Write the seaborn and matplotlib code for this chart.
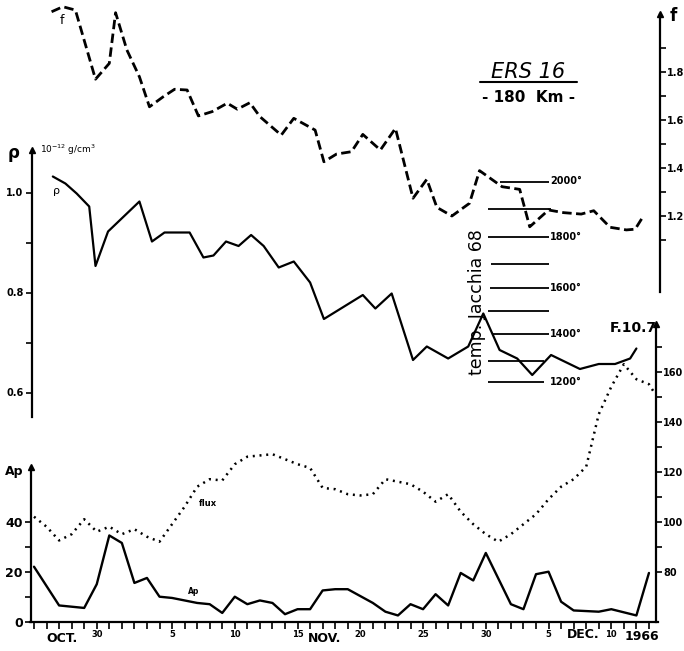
import matplotlib
matplotlib.use('Agg')
import seaborn as sns
import matplotlib.pyplot as plt
from matplotlib.lines import Line2D

sns.set_theme(style='white')
plt.rcParams['font.family'] = ['DejaVu Sans']
plt.rcParams['text.color'] = 'black'
plt.rcParams['xtick.color'] = 'black'
plt.rcParams['ytick.color'] = 'black'

# days counted from 25 Oct 1966
ap_day = [0, 2, 4, 5, 6, 7, 8, 9, 10, 11, 12, 13, 14, 15, 16, 17, 18, 19, 20, 21, 22, 23, 24, 25,
          27, 28, 29, 30, 31, 32, 33, 34, 35, 36, 38, 39, 40, 41, 42, 43, 45, 46, 48, 49]
ap = [22, 6.5, 5.5, 15, 34.5, 31.5, 15.5, 17.5, 10, 9.5, 8.5, 7.5, 7, 3.5, 10, 7, 8.5, 7.5, 3, 5, 5, 12.5, 13, 13,
      7.5, 4, 2.5, 7, 5, 11, 6.5, 19.5, 16.5, 27.5, 7, 5, 19, 20, 8, 4.5, 4, 5, 2.5, 19.5]

flux_day = list(range(0, 50)) + [49.5]
flux = [102, 98, 92.5, 95, 101, 96, 98, 95, 97, 94,
        92, 99, 106, 114, 117, 116.5, 123, 126, 126.5, 127,
        125, 123, 121.5, 113.5, 113, 111, 110.5, 111, 117, 116,
        115, 112, 108, 111, 104, 99, 95, 92, 95, 99,
        103, 109, 114, 117, 122, 143, 154, 163, 157, 155, 151]

rho_day = [1.5, 2.5, 3.4, 4.4, 4.9, 5.9, 8.4, 9.4, 10.4, 12.4, 13.5, 14.3, 15.3, 16.3, 17.3, 18.3, 19.5, 20.7,
           22.0, 23.1, 26.2, 27.2, 28.5, 30.2, 31.3, 33.0, 34.6, 35.8, 37.1, 38.5, 39.7, 41.2, 43.5, 45.0,
           46.3, 47.5, 48.0]
rho = [1.032, 1.018, 0.998, 0.972, 0.853, 0.922, 0.982, 0.902, 0.92, 0.92, 0.87, 0.874, 0.902, 0.893, 0.915,
       0.893, 0.85, 0.862, 0.82, 0.747, 0.795, 0.768, 0.798, 0.665, 0.692, 0.668, 0.692, 0.758, 0.685, 0.668,
       0.635, 0.675, 0.647, 0.657, 0.657, 0.668, 0.688]

f_day = [1.4, 2.3, 3.3, 4.9, 6.0, 6.5, 7.4, 8.4, 9.2, 10.3, 11.2, 12.2, 13.1, 14.2, 15.4, 16.2, 17.2, 18.0,
         19.7, 20.7, 22.4, 23.1, 24.1, 25.3, 26.2, 27.6, 28.8, 30.2, 31.3, 32.1, 33.3, 34.7, 35.5, 37.3,
         38.7, 39.5, 41.0, 42.2, 43.6, 44.6, 45.9, 47.2, 47.9, 48.5]
f = [2.051, 2.072, 2.058, 1.770, 1.836, 2.047, 1.892, 1.78, 1.655, 1.697, 1.728, 1.725, 1.617, 1.635, 1.67,
     1.645, 1.672, 1.614, 1.537, 1.607, 1.558, 1.426, 1.458, 1.468, 1.54, 1.475, 1.565, 1.274, 1.353, 1.236,
     1.2, 1.253, 1.389, 1.322, 1.311, 1.155, 1.225, 1.214, 1.208, 1.222, 1.153, 1.142, 1.145, 1.195]

# Jacchia 68 temperature scale, expressed as density levels
temp_levels = [2000, 1900, 1800, 1700, 1600, 1500, 1400, 1300, 1200]
temp_rho = [1.022, 0.967, 0.911, 0.857, 0.809, 0.763, 0.717, 0.664, 0.621]
temp_start = [37.1, 36.2, 36.2, 36.4, 36.3, 36.2, 36.6, 36.2, 36.2]
temp_end = [41.0, 41.2, 41.0, 41.0, 41.0, 41.0, 41.0, 40.6, 40.6]
temp_labeled = [2000, 1800, 1600, 1400, 1200]

date_ticks = [5, 11, 16, 21, 26, 31, 36, 41, 46]
date_labels = ['30', '5', '10', '15', '20', '25', '30', '5', '10']

W, H = 684, 651
XL = (-34 / 12.55, (W - 34) / 12.55)

fig = plt.figure(figsize=(W / 100, H / 100), dpi=100)
fig.patch.set_facecolor('white')


def layer(ylo, yhi):
    ax = fig.add_axes([0, 0, 1, 1])
    ax.set_xlim(XL)
    ax.set_ylim(ylo, yhi)
    ax.patch.set_alpha(0)
    for s in ax.spines.values():
        s.set_visible(False)
    ax.set_xticks([])
    ax.set_yticks([])
    return ax


ax_rho = layer(0.083, 1.385)
ax_f = layer(-0.6125, 2.1)
ax_ap = layer(-11.72, 248.68)
ax_fx = layer(48.28, 308.68)

lw_axis = 1.6
tick_kw = dict(direction='out', width=1.2, colors='black')


def show_spine(ax, side, pos, lo, hi):
    sp = ax.spines[side]
    sp.set_visible(True)
    sp.set_position(('data', pos))
    sp.set_bounds(lo, hi)
    sp.set_linewidth(lw_axis)
    sp.set_color('black')


# rho axis (left, middle)
show_spine(ax_rho, 'left', -0.16, 0.551, 1.085)
ax_rho.yaxis.set_ticks_position('left')
ax_rho.set_yticks([0.6, 0.8, 1.0], ['0.6', '0.8', '1.0'], fontsize=7, fontweight='bold')
ax_rho.set_yticks([0.7, 0.9], minor=True)
ax_rho.tick_params(axis='y', which='both', left=True, length=4, pad=2, **tick_kw)
ax_rho.plot([-0.16], [1.085], marker='^', color='black', markersize=5)

# f axis (right, top)
show_spine(ax_f, 'right', 49.88, 0.883, 2.04)
ax_f.yaxis.set_ticks_position('right')
ax_f.set_yticks([1.2, 1.4, 1.6, 1.8], ['1.2', '1.4', '1.6', '1.8'], fontsize=7, fontweight='bold')
ax_f.set_yticks([1.1, 1.3, 1.5, 1.7, 1.9], minor=True)
ax_f.tick_params(axis='y', which='both', right=True, length=4, pad=1, **tick_kw)
ax_f.plot([49.88], [2.04], marker='^', color='black', markersize=5)

# Ap axis (left, bottom) + date axis
show_spine(ax_ap, 'left', -0.24, 0, 62)
show_spine(ax_ap, 'bottom', 0, -0.3, 49.7)
ax_ap.yaxis.set_ticks_position('left')
ax_ap.set_yticks([0, 20, 40], ['0', '20', '40'], fontsize=9, fontweight='bold')
ax_ap.set_yticks([10, 30], minor=True)
ax_ap.tick_params(axis='y', which='both', left=True, length=4, pad=2, **tick_kw)
ax_ap.plot([-0.24], [62], marker='^', color='black', markersize=5)
ax_ap.xaxis.set_ticks_position('bottom')
ax_ap.set_xticks(date_ticks, date_labels, fontsize=6, fontweight='bold')
ax_ap.set_xticks(range(0, 50), minor=True)
ax_ap.tick_params(axis='x', which='both', bottom=True, length=5, pad=1, **tick_kw)

# F10.7 axis (right, bottom)
show_spine(ax_fx, 'right', 49.56, 60, 179)
ax_fx.yaxis.set_ticks_position('right')
ax_fx.set_yticks([80, 100, 120, 140, 160], ['80', '100', '120', '140', '160'], fontsize=7, fontweight='bold')
ax_fx.set_yticks([90, 110, 130, 150, 170], minor=True)
ax_fx.tick_params(axis='y', which='both', right=True, length=4, pad=1, **tick_kw)
ax_fx.plot([49.56], [179], marker='^', color='black', markersize=5)

# series
sns.lineplot(x=f_day, y=f, ax=ax_f, color='black', linewidth=2.0, sort=False)
ax_f.lines[-1].set_dashes((3.4, 1.6))
sns.lineplot(x=rho_day, y=rho, ax=ax_rho, color='black', linewidth=1.6, sort=False)
sns.lineplot(x=ap_day, y=ap, ax=ax_ap, color='black', linewidth=1.7, sort=False)
sns.lineplot(x=flux_day, y=flux, ax=ax_fx, color='black', linewidth=1.8, sort=False)
ax_fx.lines[-1].set_linestyle((0, (0.8, 1.9)))

# Jacchia temperature lines
ax_rho.hlines(temp_rho, temp_start, temp_end, color='black', linewidth=1.3)
for lv, rv in zip(temp_levels, temp_rho):
    if lv in temp_labeled:
        ax_rho.text(41.1, rv, f'{lv}°', fontsize=7, fontweight='bold', va='center', ha='left')
for a in (ax_rho, ax_f, ax_ap, ax_fx):
    a.set_xlim(XL)
    a.set_xlabel('')
    a.set_ylabel('')


def ftext(x, y, s, **kw):
    fig.text(x / W, 1 - y / H, s, **kw)


ftext(477, 302, 'temp. Jacchia 68', rotation=90, fontsize=12.5, fontweight='medium', ha='center', va='center')
ftext(528, 72, 'ERS 16', fontsize=15, fontstyle='italic', ha='center', va='center')
fig.add_artist(Line2D([480 / W, 577 / W], [1 - 82 / H, 1 - 82 / H], color='black', linewidth=1.5))
ftext(529, 98, '- 180  Km -', fontsize=11, fontweight='bold', ha='center', va='center')

ftext(14, 153, 'ρ', fontsize=12, fontweight='bold', ha='center', va='center')
ftext(40, 150, '10$^{-12}$ g/cm$^{3}$', fontsize=6.5, ha='left', va='center')
ftext(57, 191, 'ρ', fontsize=8, ha='center', va='center')
ftext(62, 20, 'f', fontsize=9, ha='center', va='center')
ftext(673, 16, 'f', fontsize=12, fontweight='bold', ha='center', va='center')
ftext(14, 472, 'Ap', fontsize=9, fontweight='bold', ha='center', va='center')
ftext(208, 503, 'flux', fontsize=6, fontweight='bold', ha='center', va='center')
ftext(194, 592, 'Ap', fontsize=5.5, fontweight='bold', ha='center', va='center')
ftext(633, 328, 'F.10.7', fontsize=10, fontweight='bold', ha='center', va='center')

ftext(62, 639, 'OCT.', fontsize=9, fontweight='bold', ha='center', va='center')
ftext(325, 639, 'NOV.', fontsize=9, fontweight='bold', ha='center', va='center')
ftext(583, 635, 'DEC.', fontsize=9, fontweight='bold', ha='center', va='center')
ftext(642, 636, '1966', fontsize=9, fontweight='bold', ha='center', va='center')

fig.savefig('out.png', dpi=100, facecolor='white')
